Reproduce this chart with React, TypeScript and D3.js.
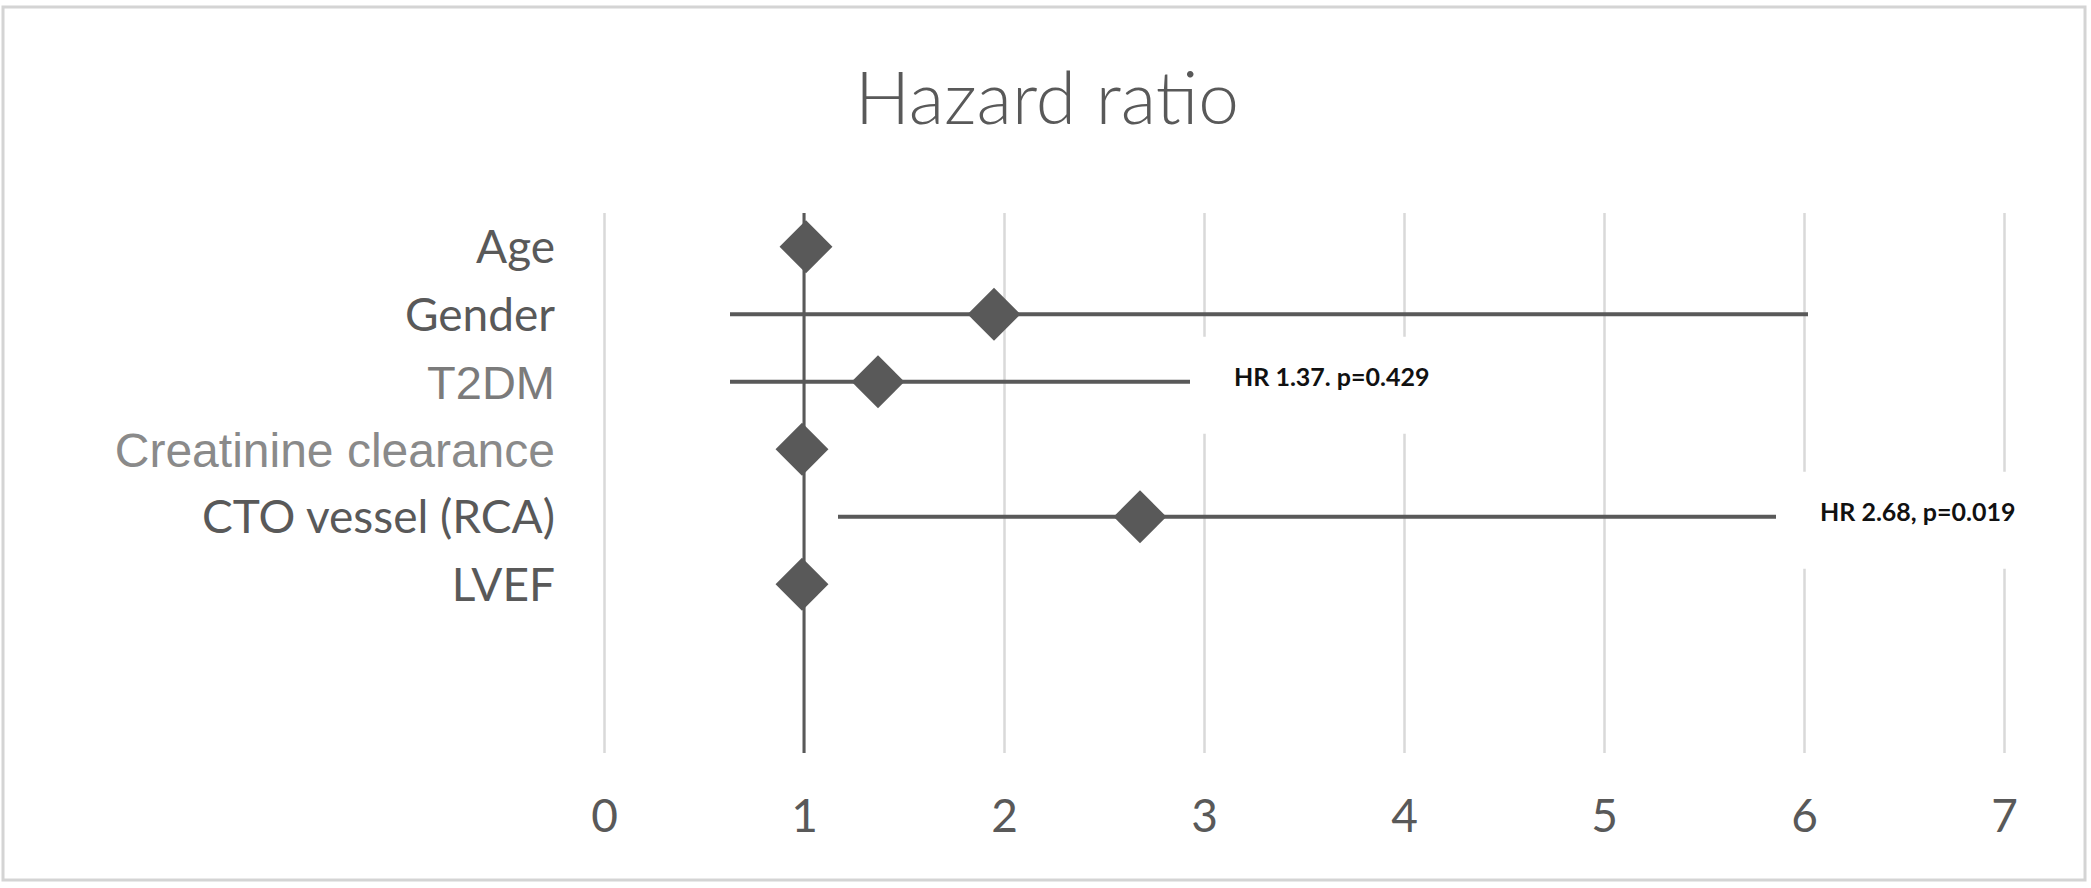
import React, {Component} from "react";
import * as d3 from "d3";

// forest plot rows, top to bottom
const categories = ["Age", "Gender", "T2DM", "Creatinine clearance", "CTO vessel (RCA)", "LVEF"];
const hazardRatios = [1.01, 1.95, 1.37, 0.99, 2.68, 0.99];
const lowerCI = [0.98, 0.63, 0.63, 0.97, 1.17, 0.97];
const upperCI = [1.04, 6.02, 2.93, 1.01, 5.86, 1.01];
const hrLabels = ["", "", "HR 1.37. p=0.429", "", "HR 2.68, p=0.019", ""];
const xTicks = [0, 1, 2, 3, 4, 5, 6, 7];
const title = "Hazard ratio";

// two of the category labels came out in a different font in the original
const labelStyles: Record<string, {font: string, size: number, color: string}> = {
    "T2DM": {font: "'Liberation Sans', Arial, sans-serif", size: 47, color: "#7b7b7b"},
    "Creatinine clearance": {font: "'Liberation Sans', Arial, sans-serif", size: 48, color: "#8a8a8a"},
};
const defaultLabelStyle = {font: "Lato, sans-serif", size: 46, color: "#595959"};

const W = 2091;
const H = 888;

class App extends Component
{
    svgRef = React.createRef<SVGSVGElement>();

    componentDidMount()
    {
        this.renderForest();
    }

    renderForest()
    {
        const svg = d3.select(this.svgRef.current);
        svg.selectAll("*").remove();

        const margin = {top: 213, left: 604, right: 87, bottom: 135};
        const width = W - margin.left - margin.right;
        const height = H - margin.top - margin.bottom;
        const dark = "#595959";
        const grid = "#d9d9d9";

        // outer frame
        svg.append("rect")
            .attr("x", 3)
            .attr("y", 7)
            .attr("width", W - 9)
            .attr("height", H - 15)
            .attr("fill", "white")
            .attr("stroke", "#d4d4d4")
            .attr("stroke-width", 3);

        svg.append("text")
            .attr("x", 1047)
            .attr("y", 124)
            .attr("text-anchor", "middle")
            .style("font-family", "Lato, sans-serif")
            .style("font-weight", 300)
            .style("font-size", "73px")
            .style("fill", dark)
            .text(title);

        const g = svg.append("g")
            .attr("transform", `translate(${margin.left},${margin.top})`);

        const x = d3.scaleLinear()
            .domain([xTicks[0], xTicks[xTicks.length - 1]])
            .range([0, width]);

        // 6 categories + 2 empty rows at the bottom
        const y = d3.scaleBand<number>()
            .domain(d3.range(categories.length + 2))
            .range([0, height]);
        const rowY = (i: number) => (y(i) as number) + y.bandwidth() / 2;

        // gridlines
        const gridAxis = g.append("g")
            .attr("transform", `translate(0,${height})`)
            .call(d3.axisBottom(x).tickValues(xTicks).tickSize(-height).tickFormat(() => ""));
        gridAxis.select(".domain").remove();
        gridAxis.selectAll("line")
            .attr("stroke", grid)
            .attr("stroke-width", 2.5);

        // tick labels
        const labelAxis = g.append("g")
            .attr("transform", `translate(0,${height})`)
            .call(d3.axisBottom(x).tickValues(xTicks).tickSize(0).tickPadding(46).tickFormat(d3.format("d")));
        labelAxis.select(".domain").remove();
        labelAxis.selectAll("text")
            .style("font-family", "Lato, sans-serif")
            .style("font-size", "46px")
            .style("fill", dark);

        // white boxes behind the data labels hide the gridlines
        const labelled = d3.range(categories.length).filter((i) => hrLabels[i] !== "");

        g.selectAll(".label-box")
            .data(labelled)
            .enter()
            .append("rect")
            .attr("class", "label-box")
            .attr("x", (i) => x(upperCI[i]) + 1)
            .attr("y", (i) => rowY(i) - 45)
            .attr("width", 252)
            .attr("height", 97)
            .attr("fill", "white");

        // reference line at HR = 1
        g.append("line")
            .attr("x1", x(1))
            .attr("x2", x(1))
            .attr("y1", 0)
            .attr("y2", height)
            .attr("stroke", dark)
            .attr("stroke-width", 3);

        // confidence intervals
        g.selectAll(".ci")
            .data(d3.range(categories.length))
            .enter()
            .append("line")
            .attr("class", "ci")
            .attr("x1", (i) => x(lowerCI[i]))
            .attr("x2", (i) => x(upperCI[i]))
            .attr("y1", (i) => rowY(i))
            .attr("y2", (i) => rowY(i))
            .attr("stroke", dark)
            .attr("stroke-width", 4);

        // diamonds
        const diamond = d3.symbol().type(d3.symbolSquare).size(1400);
        g.selectAll(".point")
            .data(d3.range(categories.length))
            .enter()
            .append("path")
            .attr("class", "point")
            .attr("d", diamond)
            .attr("transform", (i) => `translate(${x(hazardRatios[i])},${rowY(i)}) rotate(45)`)
            .attr("fill", dark);

        g.selectAll(".hr-label")
            .data(labelled)
            .enter()
            .append("text")
            .attr("class", "hr-label")
            .attr("x", (i) => x(upperCI[i]) + 44)
            .attr("y", (i) => rowY(i) - 5)
            .attr("dy", "0.36em")
            .style("font-family", "Lato, sans-serif")
            .style("font-weight", 700)
            .style("font-size", "25px")
            .style("fill", "#111")
            .text((i) => hrLabels[i]);

        // category labels on the left
        g.selectAll(".cat")
            .data(categories)
            .enter()
            .append("text")
            .attr("class", "cat")
            .attr("x", -49)
            .attr("y", (d, i) => rowY(i))
            .attr("dy", "0.36em")
            .attr("text-anchor", "end")
            .style("font-family", (d) => (labelStyles[d] || defaultLabelStyle).font)
            .style("font-size", (d) => `${(labelStyles[d] || defaultLabelStyle).size}px`)
            .style("fill", (d) => (labelStyles[d] || defaultLabelStyle).color)
            .text((d) => d);
    }

    render()
    {
        return (
            <svg
                ref={this.svgRef}
                width={W}
                height={H}
                style={{position: "absolute", left: 0, top: 0, display: "block", background: "white"}}
            ></svg>
        );
    }
}

export default App;
